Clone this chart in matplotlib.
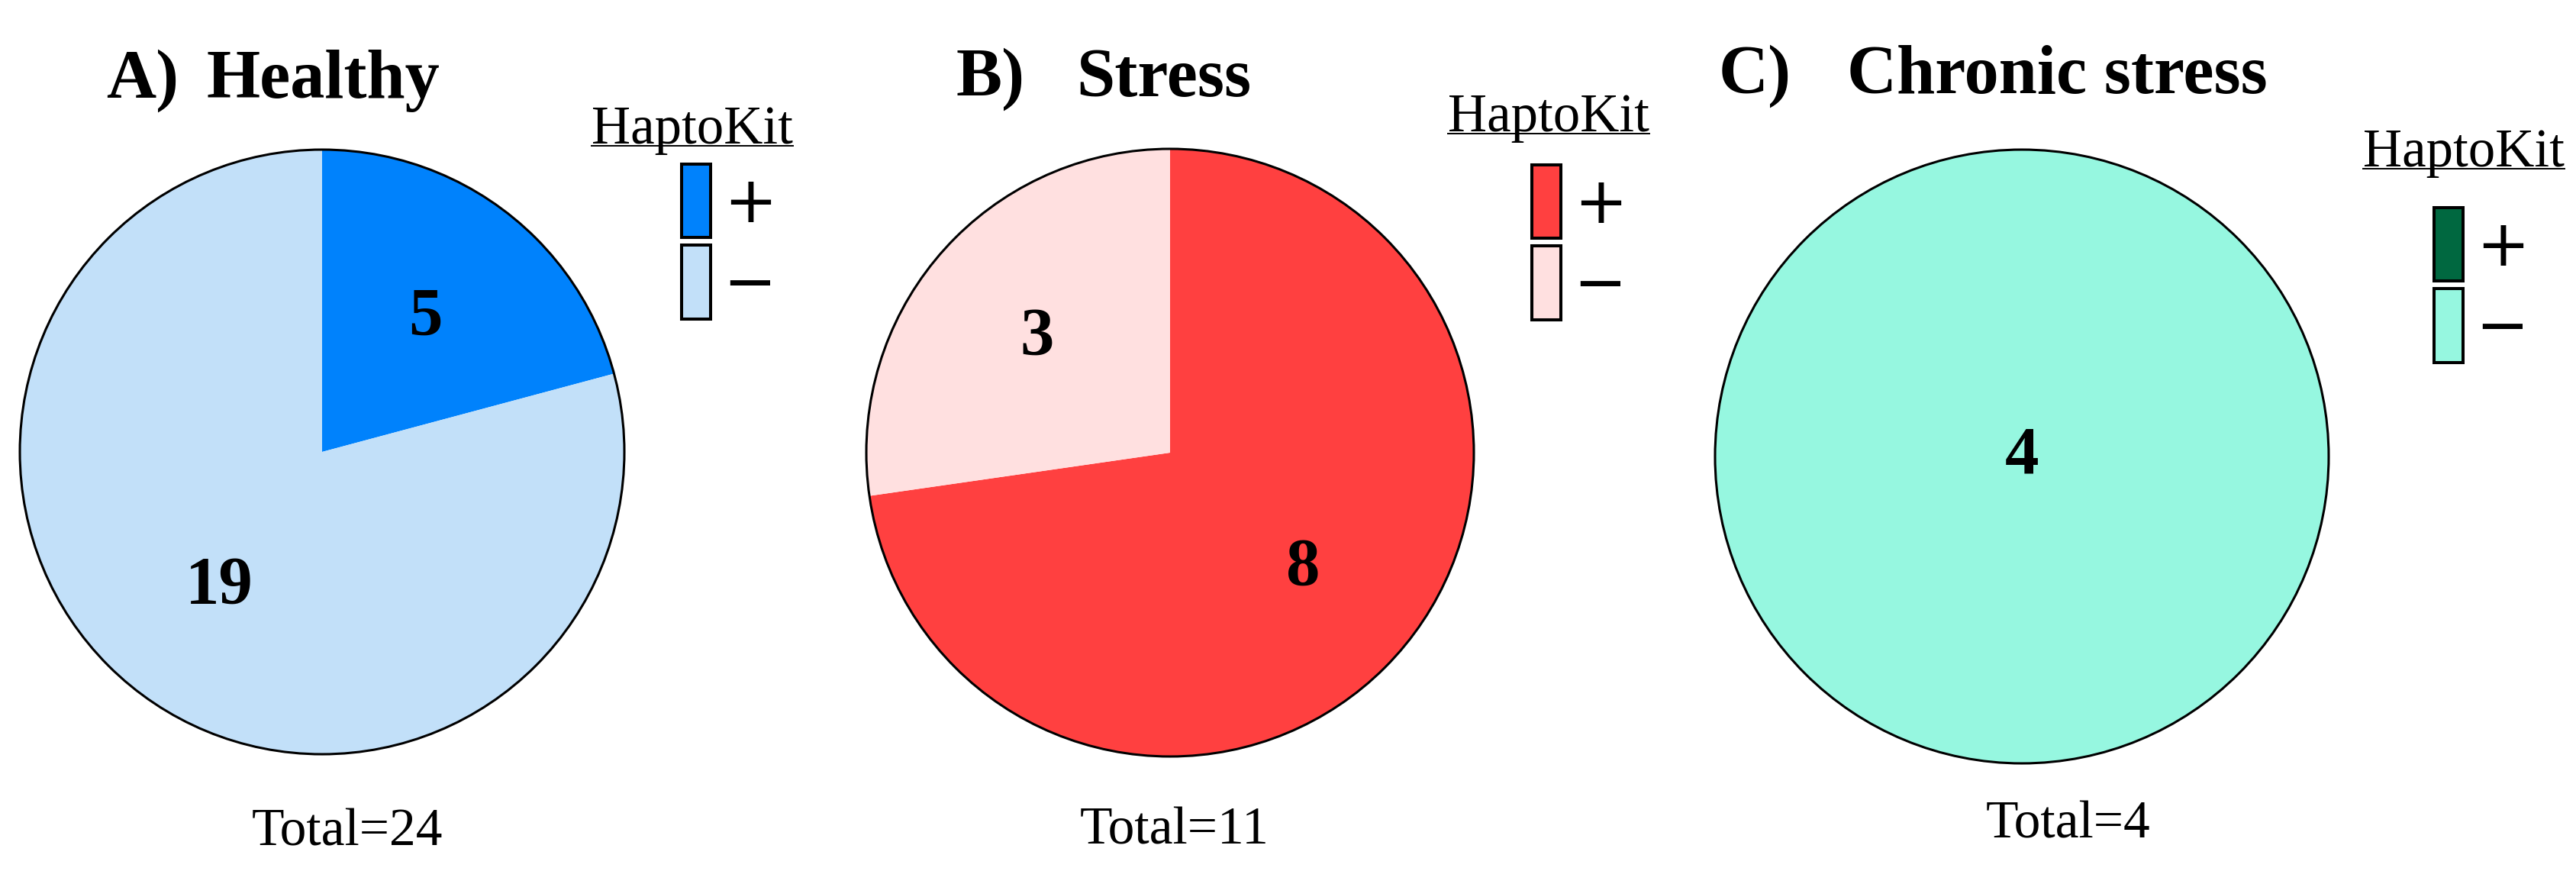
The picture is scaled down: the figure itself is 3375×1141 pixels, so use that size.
import matplotlib
matplotlib.use('Agg')
import matplotlib.pyplot as plt
from matplotlib.patches import Patch, Circle
from matplotlib.lines import Line2D

# datos
panel_tags = ['A)', 'B)', 'C)']
panel_titles = ['Healthy', 'Stress', 'Chronic stress']
legend_title = 'HaptoKit'
legend_labels = ['+', '\u2212']
haptokit_pos = [5, 8, 0]
haptokit_neg = [19, 3, 4]
colores_pos = ['#0082FC', '#FF4040', '#006840']
colores_neg = ['#C2E0F9', '#FFE0E0', '#96F7E0']

# disposicion (pixeles de la imagen final)
W, H = 3375, 1141
centros = [(422, 592), (1533, 593), (2649, 598)]
radios = [396, 398, 402]
dist_etiqueta = [0.56, 0.58, 0.0]
tag_x = [139, 1252, 2252]
titulo_x = [271, 1410, 2420]
titulo_base = [128, 126, 122]
total_x = [455, 1539, 2710]
total_base = [1107, 1105, 1098]
leyenda_x = [893, 2007, 3189]
leyenda_y = [215, 216, 272]
hk_x = [775, 1897, 3096]
hk_base = [188, 172, 218]

serif = 'Liberation Serif'


def fx(x):
    return x / W


def fy(y):
    return 1 - y / H


fig = plt.figure(figsize=(W / 100, H / 100), dpi=100)
fig.patch.set_facecolor('white')
renderer = fig.canvas.get_renderer()

for i in range(3):
    cx, cy = centros[i]
    r = radios[i]
    ax = fig.add_axes([fx(cx - r), fy(cy + r), 2 * r / W, 2 * r / H])

    valores = [haptokit_pos[i], haptokit_neg[i]]
    colores = [colores_pos[i], colores_neg[i]]
    total = sum(valores)
    vals = [v for v in valores if v > 0]
    cols = [c for v, c in zip(valores, colores) if v > 0]

    ax.pie(vals, colors=cols, startangle=90, counterclock=False, radius=1,
           wedgeprops=dict(linewidth=0),
           autopct=lambda p, t=total: f'{round(p * t / 100)}',
           pctdistance=dist_etiqueta[i],
           textprops=dict(fontsize=64, fontweight='bold', family=serif, color='black'))
    ax.add_patch(Circle((0, 0), 1, fill=False, ec='black', lw=2.2, clip_on=False))
    ax.set_xlim(-1, 1)
    ax.set_ylim(-1, 1)
    ax.set_aspect('auto')
    ax.axis('off')

    # titulos
    fig.text(fx(tag_x[i]), fy(titulo_base[i]), panel_tags[i], fontsize=65,
             fontweight='bold', family=serif, ha='left', va='baseline')
    fig.text(fx(titulo_x[i]), fy(titulo_base[i]), panel_titles[i], fontsize=65,
             fontweight='bold', family=serif, ha='left', va='baseline')

    # total
    fig.text(fx(total_x[i]), fy(total_base[i]), f'Total={total}', fontsize=50,
             family=serif, ha='center', va='baseline')

    # leyenda
    handles = [Patch(facecolor=c, edgecolor='black', linewidth=2.9) for c in colores]
    ax.legend(handles, legend_labels, loc='upper left',
              bbox_to_anchor=(fx(leyenda_x[i]), fy(leyenda_y[i])),
              bbox_transform=fig.transFigure, frameon=False, borderpad=0,
              borderaxespad=0, handlelength=0.456, handleheight=1.4,
              handletextpad=0.2, labelspacing=0.12,
              prop=dict(family='DejaVu Sans', size=60))

    # titulo de la leyenda subrayado
    t = fig.text(fx(hk_x[i]), fy(hk_base[i]), legend_title, fontsize=51,
                 family=serif, ha='left', va='baseline')
    bb = t.get_window_extent(renderer=renderer)
    fig.add_artist(Line2D([fx(hk_x[i]), fx(hk_x[i]) + bb.width / W],
                          [fy(hk_base[i] + 3)] * 2, color='black', lw=1.4,
                          transform=fig.transFigure))

fig.savefig('out.png', dpi=100, facecolor='white')
